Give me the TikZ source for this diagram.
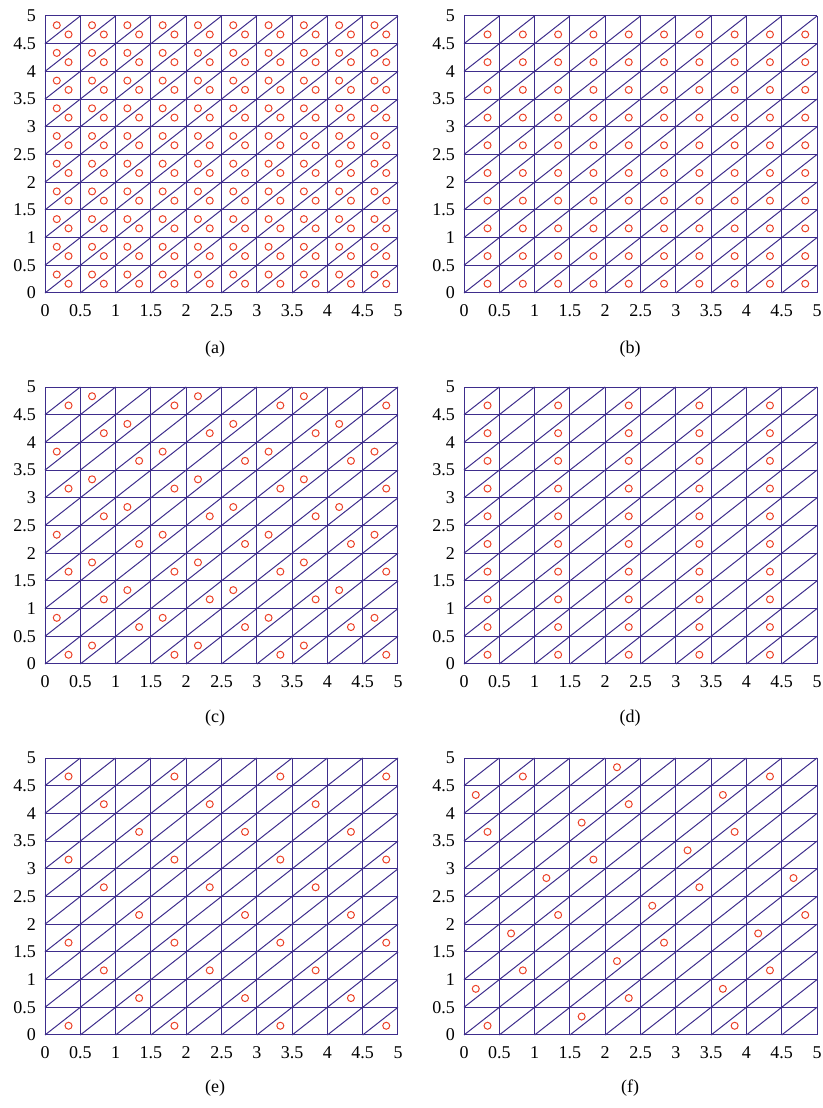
\documentclass[tikz,border=0pt]{standalone}
\usepackage{fontspec}
\setmainfont{Liberation Serif}
\definecolor{meshline}{RGB}{62,45,140}
\definecolor{marker}{RGB}{235,65,40}

\tikzset{
  meshgrid/.style={draw=meshline, line width=1pt},
  hole/.style={draw=marker, line width=1pt},
  ticklbl/.style={font=\fontsize{18}{18}\selectfont, inner sep=0pt},
  caption/.style={font=\fontsize{18}{18}\selectfont, inner sep=0pt}
}

% mesh of one panel, with its axis numbers
\newcommand{\meshpanel}[1]{%
  \draw[meshgrid] (0,0) grid[step=0.5] (5,5);
  \foreach \i in {0,...,9} \foreach \j in {0,...,9} \draw[meshgrid] (\i/2,\j/2) -- ++(0.5,0.5);
  \foreach \t [count=\n] in {0,0.5,1,1.5,2,2.5,3,3.5,4,4.5,5} {
    \node[ticklbl] (#1x\n) at ({(\n-1)/2},0) [yshift=-18pt] {\t};
    \node[ticklbl, anchor=east] (#1y\n) at (0,{(\n-1)/2}) [xshift=-9pt] {\t};
  }
}
\newcommand{\holeU}[2]{\draw[hole] ({(#1)*0.5+1/6},{(#2)*0.5+1/3}) circle (3.5pt);}
\newcommand{\holeL}[2]{\draw[hole] ({(#1)*0.5+1/3},{(#2)*0.5+1/6}) circle (3.5pt);}

\begin{document}
\begin{tikzpicture}[x=1pt, y=1pt]
\useasboundingbox (0,0) rectangle (822,1108);

% (a)
\begin{scope}[shift={(45,815)}, x=70.6pt, y=55.4pt]
\meshpanel{a}
\foreach \i in {0,...,9} \foreach \j in {0,...,9} {\holeU{\i}{\j}\holeL{\i}{\j}}
\end{scope}
\node[caption] (capa) at (215,759) {(a)};

% (b)
\begin{scope}[shift={(464,815)}, x=70.6pt, y=55.4pt]
\meshpanel{b}
\foreach \i in {0,...,9} \foreach \j in {0,...,9} {\holeL{\i}{\j}}
\end{scope}
\node[caption] (capb) at (630,759) {(b)};

% (c)
\begin{scope}[shift={(45,444)}, x=70.6pt, y=55.4pt]
\meshpanel{c}
\foreach \j in {0,...,9} \foreach \k in {0,...,10} {
  \pgfmathtruncatemacro\r{mod(\k+\j,3)}
  \ifnum\r=1
    \ifnum\k>0 \holeL{\k-1}{\j}\fi
    \ifnum\k<10 \holeU{\k}{\j}\fi
  \fi
}
\end{scope}
\node[caption] (capc) at (215,390) {(c)};

% (d)
\begin{scope}[shift={(464,444)}, x=70.6pt, y=55.4pt]
\meshpanel{d}
\foreach \i in {0,2,...,8} \foreach \j in {0,...,9} {\holeL{\i}{\j}}
\end{scope}
\node[caption] (capd) at (630,390) {(d)};

% (e)
\begin{scope}[shift={(45,73)}, x=70.6pt, y=55.4pt]
\meshpanel{e}
\foreach \i in {0,...,9} \foreach \j in {0,...,9} {
  \pgfmathtruncatemacro\r{mod(\i+\j,3)}
  \ifnum\r=0 \holeL{\i}{\j}\fi
}
\end{scope}
\node[caption] (cape) at (215,20) {(e)};

% (f)
\begin{scope}[shift={(464,73)}, x=70.6pt, y=55.4pt]
\meshpanel{f}
\foreach \i/\j in {0/0,7/0,4/1,1/2,8/2,5/3,2/4,9/4,6/5,3/6,0/7,7/7,4/8,1/9,8/9} {\holeL{\i}{\j}}
\foreach \i/\j in {3/0,0/1,7/1,4/2,1/3,8/3,5/4,2/5,9/5,6/6,3/7,0/8,7/8,4/9} {\holeU{\i}{\j}}
\end{scope}
\node[caption] (capf) at (630,20) {(f)};
\end{tikzpicture}
\end{document}
